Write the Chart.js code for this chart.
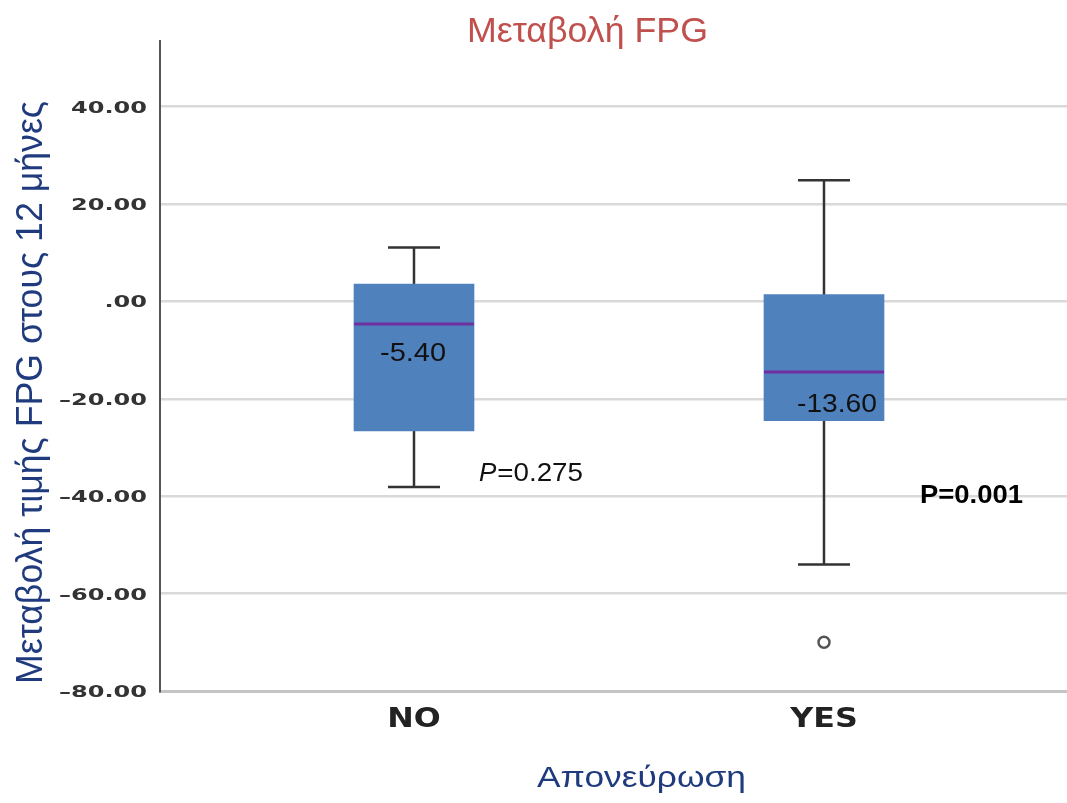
<!DOCTYPE html>
<html lang="el">
<head>
    <meta charset="UTF-8">
    <title>Μεταβολή FPG</title>
    <script src="https://cdn.jsdelivr.net/npm/chart.js@4.4.1/dist/chart.umd.min.js"></script>
    <style>
        body { margin: 0; background: #fff; }
        canvas { display: block; }
    </style>
</head>
<body>
    <canvas id="fpgChart" width="1067" height="803"></canvas>

    <script>
        // Data
        const categories = ['NO', 'YES'];
        const categoryPos = [1, 2];
        const whiskerLow = [-38.1, -54.0];
        const q1 = [-26.6, -24.5];
        const median = [-4.6, -14.5];
        const q3 = [3.6, 1.4];
        const whiskerHigh = [11.1, 24.9];
        const outlierPos = [2];
        const outlierValues = [-70.0];
        const medianLabels = ['-5.40', '-13.60'];
        const pValues = ['0.275', '0.001'];
        const yTicks = [-80, -60, -40, -20, 0, 20, 40];

        const NAVY = '#1f3b7e';

        // Format ticks like SPSS: ".00", "40.00", "–20.00"
        function fmtTick(v) {
            if (v === 0) return '.00';
            const s = Math.abs(v).toFixed(2);
            return v < 0 ? '\u2013' + s : s;
        }

        // Draw text squeezed/stretched horizontally to a target width.
        // align: 'left' | 'center' | 'right' relative to x; y is the baseline
        function fitText(ctx, text, x, y, font, color, width, align) {
            ctx.save();
            ctx.font = font;
            ctx.letterSpacing = '0px';
            const w = ctx.measureText(text).width;
            let left = x;
            if (align === 'center') left = x - width / 2;
            if (align === 'right') left = x - width;
            ctx.translate(left, y);
            ctx.scale(width / w, 1);
            ctx.fillStyle = color;
            ctx.textAlign = 'left';
            ctx.textBaseline = 'alphabetic';
            ctx.fillText(text, 0, 0);
            ctx.restore();
        }

        // Same, but with a fixed horizontal stretch factor
        function wideText(ctx, text, x, y, font, color, sx, align) {
            ctx.save();
            ctx.font = font;
            const w = ctx.measureText(text).width;
            fitText(ctx, text, x, y, font, color, w * sx, align);
            ctx.restore();
        }

        const boxPlugin = {
            id: 'boxParts',
            beforeDatasetsDraw(chart) {
                const ctx = chart.ctx;
                const xs = chart.scales.x, ys = chart.scales.y;
                ctx.save();
                ctx.strokeStyle = '#333';
                ctx.lineWidth = 2.5;
                categoryPos.forEach((p, i) => {
                    const x = xs.getPixelForValue(p);
                    const lo = ys.getPixelForValue(whiskerLow[i]);
                    const hi = ys.getPixelForValue(whiskerHigh[i]);
                    ctx.beginPath();
                    ctx.moveTo(x, lo); ctx.lineTo(x, hi);
                    ctx.moveTo(x - 26, lo); ctx.lineTo(x + 26, lo);
                    ctx.moveTo(x - 26, hi); ctx.lineTo(x + 26, hi);
                    ctx.stroke();
                });
                ctx.restore();
            },
            afterDatasetsDraw(chart) {
                const ctx = chart.ctx;
                const xs = chart.scales.x, ys = chart.scales.y;
                const bars = chart.getDatasetMeta(0).data;
                ctx.save();
                ctx.strokeStyle = '#7030a0';
                ctx.lineWidth = 3;
                categoryPos.forEach((p, i) => {
                    const y = ys.getPixelForValue(median[i]);
                    const half = bars[i].width / 2;
                    ctx.beginPath();
                    ctx.moveTo(bars[i].x - half, y);
                    ctx.lineTo(bars[i].x + half, y);
                    ctx.stroke();
                });
                ctx.restore();

                // median labels inside boxes: [dx of left edge, dy of baseline, width]
                const font = '26px "Liberation Sans", Arial, sans-serif';
                const mOff = [[-34, 37, 66], [-27, 40, 80]];
                categoryPos.forEach((p, i) => {
                    const x = xs.getPixelForValue(p);
                    const y = ys.getPixelForValue(median[i]);
                    fitText(ctx, medianLabels[i], x + mOff[i][0], y + mOff[i][1], font, '#111', mOff[i][2], 'left');
                });

                // p-values
                const x0 = xs.getPixelForValue(categoryPos[0]);
                ctx.save();
                ctx.font = 'italic 26px "Liberation Sans", Arial, sans-serif';
                ctx.fillStyle = '#111';
                ctx.textBaseline = 'alphabetic';
                ctx.fillText('P', x0 + 65, 481);
                const pw = ctx.measureText('P').width;
                ctx.restore();
                fitText(ctx, '=' + pValues[0], x0 + 66 + pw, 481, '26px "Liberation Sans", Arial, sans-serif', '#111', 103 - pw, 'left');
                const x1 = xs.getPixelForValue(categoryPos[1]);
                fitText(ctx, 'P=' + pValues[1], x1 + 96, 503, 'bold 26px "Liberation Sans", Arial, sans-serif', '#000', 103, 'left');
            },
            afterDraw(chart) {
                const ctx = chart.ctx;
                const xs = chart.scales.x, ys = chart.scales.y;

                // y tick labels, wide bold lettering as in the original
                ys.ticks.forEach(t => {
                    const y = ys.getPixelForValue(t.value);
                    wideText(ctx, fmtTick(t.value), 147, y + 6, 'bold 16px "DejaVu Sans"', '#333', 1.5, 'right');
                });
                // category labels
                xs.ticks.forEach(t => {
                    const x = xs.getPixelForValue(t.value);
                    const label = categories[categoryPos.indexOf(t.value)];
                    wideText(ctx, label, x, 727, 'bold 26px "DejaVu Sans"', '#222', 1.22, 'center');
                });

                // title
                fitText(ctx, 'Μεταβολή FPG', 467, 42, '35px "Liberation Sans", Arial, sans-serif', '#c0504d', 241, 'left');
                // x axis title
                fitText(ctx, 'Απονεύρωση', 537, 787, '30px "Liberation Sans", Arial, sans-serif', NAVY, 209, 'left');
                // y axis title, rotated
                ctx.save();
                ctx.translate(42, 684);
                ctx.rotate(-Math.PI / 2);
                fitText(ctx, 'Μεταβολή τιμής FPG στους 12 μήνες', 0, 0, '36px "Liberation Sans", Arial, sans-serif', NAVY, 583, 'left');
                ctx.restore();
            }
        };

        new Chart(document.getElementById('fpgChart'), {
            data: {
                datasets: [
                    {
                        type: 'bar',
                        data: categoryPos.map((p, i) => ({ x: p, y: [q1[i], q3[i]] })),
                        backgroundColor: '#4f81bd',
                        borderWidth: 0,
                        barThickness: 120,
                        order: 2
                    },
                    {
                        type: 'scatter',
                        data: outlierPos.map((p, i) => ({ x: p, y: outlierValues[i] })),
                        pointStyle: 'circle',
                        pointRadius: 5.5,
                        borderColor: '#555',
                        borderWidth: 2.5,
                        backgroundColor: '#fff',
                        order: 1
                    }
                ]
            },
            options: {
                responsive: false,
                animation: false,
                layout: { autoPadding: false, padding: { top: 41, left: 0, right: 0, bottom: 0 } },
                plugins: {
                    legend: { display: false },
                    tooltip: { enabled: false },
                    title: { display: false }
                },
                scales: {
                    x: {
                        type: 'linear',
                        offset: false,
                        min: 0.3805,
                        max: 2.5927,
                        afterBuildTicks: (scale) => { scale.ticks = categoryPos.map(v => ({ value: v })); },
                        afterFit: (scale) => {
                            scale.height = 112;
                            scale.paddingLeft = 0;
                            scale.paddingRight = 0;
                        },
                        grid: { display: false, drawTicks: false },
                        border: { display: true, color: '#c4c4c4', width: 3 },
                        ticks: { display: false }
                    },
                    y: {
                        min: -80,
                        max: 53.5,
                        afterBuildTicks: (scale) => { scale.ticks = yTicks.map(v => ({ value: v })); },
                        afterFit: (scale) => {
                            scale.width = 160;
                            scale.paddingTop = 0;
                            scale.paddingBottom = 0;
                        },
                        grid: { color: '#d9d9d9', lineWidth: 2.5, drawTicks: false },
                        border: { display: true, color: '#555', width: 2 },
                        ticks: { display: false }
                    }
                }
            },
            plugins: [boxPlugin]
        });
    </script>
</body>
</html>
